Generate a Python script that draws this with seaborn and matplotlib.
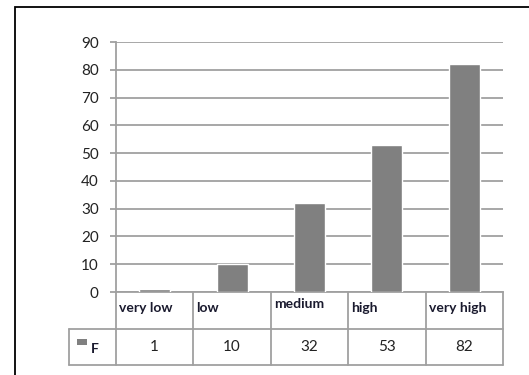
import matplotlib
matplotlib.use('Agg')
import matplotlib.pyplot as plt
import seaborn as sns
import pandas as pd
from matplotlib.patches import Rectangle
from matplotlib.lines import Line2D

# ── Data ─────────────────────────────────────────────────────────────────────
categories = ['very low', 'low', 'medium', 'high', 'very high']
values = [1, 10, 32, 53, 82]
series_name = 'F'
yticks = [0, 10, 20, 30, 40, 50, 60, 70, 80, 90]

BAR = '#808080'
GRID = '#a0a0a0'
W, H = 529, 375

sns.set_style('white')
plt.rcParams['font.family'] = ['Lato', 'DejaVu Sans']

df = pd.DataFrame({'category': categories, 'value': values})

fig = plt.figure(figsize=(W / 100, H / 100), dpi=100)

# outer frame (runs off the right edge)
fig.patches.append(Rectangle((15 / W, -0.1), 1.2, (H - 7) / H + 0.1,
                             transform=fig.transFigure, fill=False,
                             edgecolor='black', linewidth=1.3))

ax = fig.add_axes([116 / W, (H - 292) / H, 387 / W, 250 / H])
sns.barplot(data=df, x='category', y='value', color=BAR, width=0.4,
            saturation=1, ax=ax, zorder=3)
ax.set_xlim(-0.5, len(categories) - 0.5)
ax.set_ylim(0, 90)
ax.set_yticks(yticks)
ax.set_yticklabels([str(t) for t in yticks], fontsize=11, color='#222222')
ax.tick_params(axis='y', length=4.5, width=1.3, color=GRID, pad=8, left=True)
ax.tick_params(axis='x', length=0, labelbottom=False)
ax.set_xlabel('')
ax.set_ylabel('')
ax.yaxis.grid(True, color=GRID, linewidth=1.3, zorder=0)
ax.set_axisbelow(True)
for s in ['top', 'right']:
    ax.spines[s].set_visible(False)
ax.spines['left'].set_color(GRID)
ax.spines['left'].set_linewidth(1.3)
ax.spines['bottom'].set_color(GRID)
ax.spines['bottom'].set_linewidth(1.3)

# ── Data table under the axis ────────────────────────────────────────────────
px = 1 / 250  # one pixel in axes-fraction units (vertically)
row1 = -37 * px
row2 = -73 * px
tr = ax.get_xaxis_transform()
n = len(categories)
lk = dict(color=GRID, linewidth=1.3, transform=tr, clip_on=False)

# vertical column lines
for i in range(n + 1):
    ax.add_line(Line2D([i - 0.5, i - 0.5], [0, row2], **lk))
# horizontal lines
ax.add_line(Line2D([-0.5 - 47 / 77.4, n - 0.5], [row1, row1], **lk))
ax.add_line(Line2D([-0.5 - 47 / 77.4, n - 0.5], [row2, row2], **lk))
ax.add_line(Line2D([-0.5 - 47 / 77.4] * 2, [row1, row2], **lk))

for i, (c, v) in enumerate(zip(categories, values)):
    dy = 4 * px if c == 'medium' else 0
    ax.text(i - 0.46, -16 * px + dy, c, transform=tr, fontsize=10,
            fontweight='bold', ha='left', va='center', color='#1a1a2e')
    ax.text(i, -55 * px, str(v), transform=tr, fontsize=11,
            ha='center', va='center', color='#222222')

# legend key in the table
ax.add_patch(Rectangle((-0.5 - 39 / 77.4, -53 * px), 10 / 77.4, 6 * px,
                       transform=tr, facecolor=BAR, edgecolor='none',
                       clip_on=False))
ax.text(-0.5 - 25 / 77.4, -57 * px, series_name, transform=tr, fontsize=10,
        fontweight='bold', ha='left', va='center', color='#1a1a2e')

fig.savefig('out.png', dpi=100)
